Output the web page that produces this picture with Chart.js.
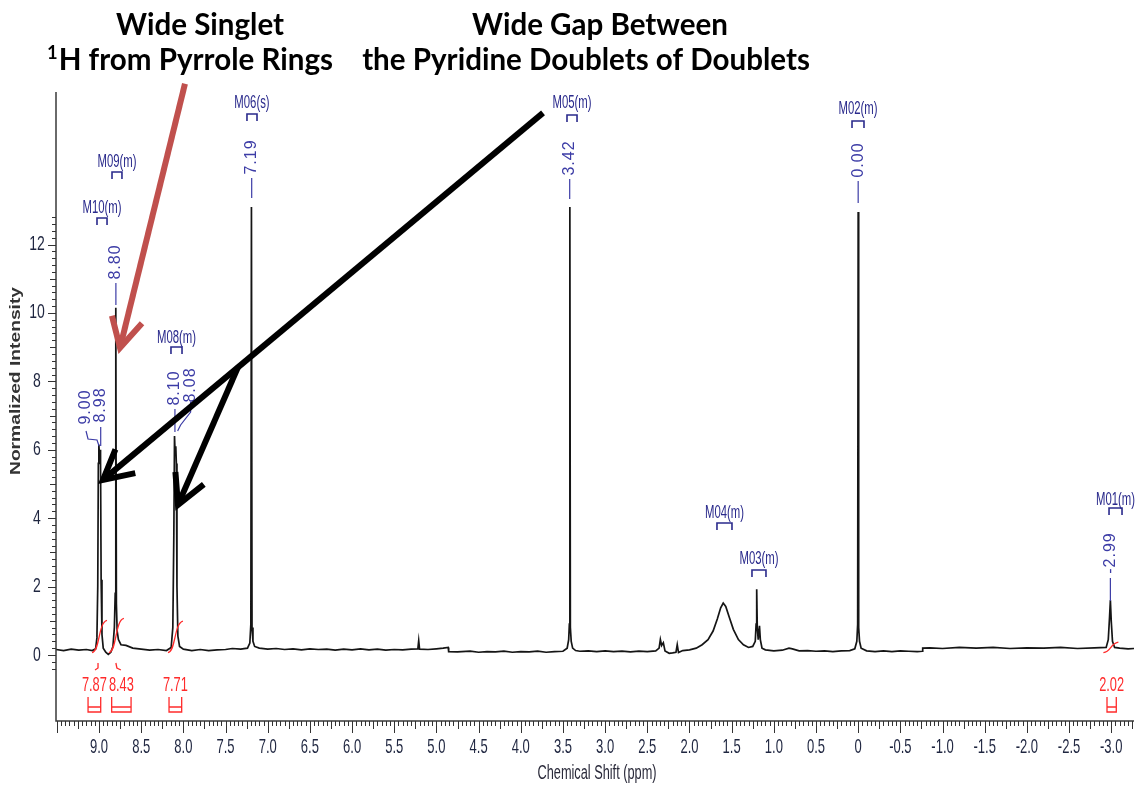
<!DOCTYPE html>
<html>
<head>
<meta charset="utf-8">
<title>1H NMR spectrum</title>
<script src="https://cdn.jsdelivr.net/npm/chart.js@4.4.1/dist/chart.umd.min.js"></script>
<style>
  html, body { margin: 0; padding: 0; background: #fff; }
  canvas { display: block; }
</style>
</head>
<body>
<canvas id="nmrChart" width="1139" height="785"></canvas>
<script>
// spectrum trace: chemical shift (ppm) and normalized intensity
const shiftPpm = [
  // 9.5 - 8.6
  9.51, 9.42, 9.33, 9.24, 9.15, 9.08, 9.04, 9.025, 9.015, 9.008, 9.002, 8.995, 8.988, 8.982, 8.975,
  8.965, 8.95, 8.92, 8.89, 8.86, 8.835, 8.818, 8.808, 8.801, 8.794, 8.785, 8.77, 8.74, 8.68, 8.6,
  // 8.5 - 7.1
  8.5, 8.4, 8.3, 8.2, 8.145, 8.125, 8.113, 8.105, 8.098, 8.09, 8.083, 8.076, 8.065, 8.045, 8.0,
  7.9, 7.8, 7.7, 7.6, 7.5, 7.42, 7.32, 7.24, 7.212, 7.2, 7.193, 7.186, 7.175, 7.155, 7.1,
  // 7.0 - 3.5
  7.0, 6.9, 6.8, 6.7, 6.6, 6.5, 6.4, 6.3, 6.2, 6.1, 6.0, 5.9, 5.8, 5.7, 5.6, 5.5, 5.4, 5.3, 5.22, 5.21,
  5.2, 5.1, 5.0, 4.92, 4.86, 4.855, 4.75, 4.6, 4.5, 4.4, 4.3, 4.2, 4.1, 4.0, 3.9, 3.8, 3.7, 3.6, 3.5,
  // 3.45 - 2.0
  3.45, 3.432, 3.424, 3.418, 3.412, 3.402, 3.385, 3.35, 3.3, 3.2, 3.1, 3.0, 2.9, 2.8, 2.7,
  2.6, 2.5, 2.4, 2.36, 2.345, 2.33, 2.31, 2.29, 2.24, 2.2, 2.16, 2.145, 2.13, 2.08, 2.0,
  // 1.92 - 0.04
  1.92, 1.85, 1.78, 1.72, 1.67, 1.63, 1.6, 1.57, 1.53, 1.48, 1.42, 1.36, 1.3, 1.25, 1.22, 1.21, 1.203, 1.196,
  1.185, 1.17, 1.16, 1.14, 1.1, 1.0, 0.9, 0.82, 0.78, 0.7, 0.6, 0.5, 0.4, 0.3, 0.2, 0.1, 0.04,
  // 0.016 - -3.27
  0.016, 0.006, 0.0, -0.006, -0.016, -0.035, -0.1, -0.2, -0.3, -0.4, -0.5, -0.6, -0.7, -0.76, -0.765, -0.85, -1.0, -1.2,
  -1.4, -1.6, -1.8, -2.0, -2.2, -2.4, -2.6, -2.8, -2.94, -2.965, -2.98, -2.99, -3.0, -3.015, -3.04, -3.1, -3.2, -3.27
];
const intensity = [
  0.16, 0.13, 0.17, 0.14, 0.16, 0.13, 0.18, 0.5, 2.0, 5.6, 6.15, 5.85, 6.0, 5.7, 2.2,
  0.6, 0.2, 0.08, 0.02, 0.08, 0.25, 0.8, 1.8, 10.15, 1.5, 0.7, 0.45, 0.3, 0.28, 0.2,
  0.17, 0.14, 0.16, 0.13, 0.22, 0.8, 3.5, 6.4, 5.9, 6.1, 5.6, 2.0, 0.55, 0.25, 0.17,
  0.13, 0.16, 0.13, 0.15, 0.16, 0.19, 0.17, 0.2, 0.35, 0.9, 13.1, 0.8, 0.4, 0.25, 0.2,
  0.17, 0.19, 0.16, 0.18, 0.15, 0.18, 0.16, 0.17, 0.14, 0.17, 0.15, 0.18, 0.15, 0.17, 0.14, 0.16, 0.15, 0.17, 0.18, 0.42,
  0.17, 0.16, 0.18, 0.2, 0.22, 0.1, 0.09, 0.11, 0.08, 0.1, 0.09, 0.11, 0.08, 0.1, 0.09, 0.11, 0.08, 0.1, 0.11,
  0.2, 0.45, 0.9, 13.1, 0.8, 0.4, 0.2, 0.13, 0.11, 0.12, 0.1, 0.12, 0.1, 0.11, 0.09,
  0.11, 0.1, 0.12, 0.2, 0.45, 0.28, 0.36, 0.12, 0.05, 0.06, 0.08, 0.3, 0.07, 0.13, 0.15,
  0.2, 0.3, 0.45, 0.7, 1.05, 1.38, 1.52, 1.42, 1.12, 0.75, 0.45, 0.3, 0.22, 0.25, 0.4, 0.9, 1.92, 0.8,
  0.45, 0.85, 0.45, 0.2, 0.15, 0.12, 0.14, 0.2, 0.18, 0.12, 0.13, 0.11, 0.12, 0.1, 0.12, 0.13, 0.18,
  0.4, 0.9, 12.95, 0.8, 0.4, 0.2, 0.12, 0.1, 0.12, 0.1, 0.12, 0.11, 0.1, 0.11, 0.2, 0.21, 0.19, 0.22,
  0.2, 0.22, 0.19, 0.21, 0.2, 0.22, 0.19, 0.21, 0.22, 0.45, 1.1, 1.6, 1.0, 0.4, 0.22, 0.2, 0.18, 0.19
];

// axis tick labels
const xTickLabels = ['9.0', '8.5', '8.0', '7.5', '7.0', '6.5', '6.0', '5.5', '5.0', '4.5', '4.0', '3.5', '3.0',
  '2.5', '2.0', '1.5', '1.0', '0.5', '0', '-0.5', '-1.0', '-1.5', '-2.0', '-2.5', '-3.0'];
const yTickLabels = ['0', '2', '4', '6', '8', '10', '12'];

// peak picking labels
const peakLabels = ['9.00', '8.98', '8.80', '8.10', '8.08', '7.19', '3.42', '0.00', '-2.99'];
const peakShifts = [9.00, 8.98, 8.80, 8.10, 8.08, 7.19, 3.42, 0.00, -2.99];

// multiplet names and their ranges (ppm)
const multipletNames = ['M10(m)', 'M09(m)', 'M08(m)', 'M06(s)', 'M05(m)', 'M02(m)', 'M04(m)', 'M03(m)', 'M01(m)'];
const multipletFrom = [9.024, 8.846, 8.147, 7.246, 3.452, 0.073, 1.674, 1.259, -2.974];
const multipletTo = [8.905, 8.728, 8.016, 7.127, 3.333, -0.069, 1.496, 1.093, -3.128];

// integrals
const integralLabels = ['7.87', '8.43', '7.71', '2.02'];
const integralValues = [7.87, 8.43, 7.71, 2.02];
const integralFrom = [9.13, 8.85, 8.17, -2.95];
const integralTo = [8.98, 8.62, 8.02, -3.06];
const integralPeaks = [9.00, 8.80, 8.10, -2.99];

// callout arrows in data coordinates [ppm, intensity]
const arrowStarts = [[7.981, 16.70], [3.736, 15.85], [7.352, 8.42]];
const arrowTips = [[8.751, 8.98], [8.953, 5.12], [8.064, 4.39]];
const arrowColors = ['#c0504d', '#000000', '#000000'];

// ---- layout of text (pixels) ----
const peakLabelLayout = [
  { dx: -13, mid: 407, lead: [[-13, 431], [-11, 439], [-2, 440], [0, 446]] },
  { dx: 0, mid: 405, lead: [[0, 427], [0, 446]] },
  { dx: 0, mid: 262, lead: [[0, 283], [0, 305]] },
  { dx: 0, mid: 388, lead: [[0, 409], [0, 432]] },
  { dx: 14, mid: 385, lead: [[14, 402], [14, 412], [4, 425], [1, 431]] },
  { dx: 0, mid: 157, lead: [[0, 178], [0, 198]] },
  { dx: 0, mid: 158, lead: [[0, 179], [0, 199]] },
  { dx: 0, mid: 160, lead: [[0, 181], [0, 203]] },
  { dx: 0, mid: 553, lead: [[0, 578], [0, 601]] }
];
const multipletTextY = [208, 162, 338, 103, 103, 109, 513, 559, 500];
const multipletBracketY = [218, 172, 347, 114, 115, 121, 523, 570, 508];

const FAMILY = '"Liberation Sans", Arial, sans-serif';
const CONDENSE = 0.62;
const NAVY = '#2a2a8c';
const LABEL_BLUE = '#3c3ca6';
const RED = '#ff2b2b';
const TICK_TEXT = '#1f2640';

function narrowText(ctx, str, x, y, size, color, opts) {
  opts = opts || {};
  ctx.save();
  ctx.translate(x, y);
  if (opts.rotate) ctx.rotate(opts.rotate);
  ctx.font = (opts.weight || 'normal') + ' ' + size + 'px ' + FAMILY;
  var w = ctx.measureText(str).width;
  var sx = opts.width ? opts.width / w : (opts.sx || CONDENSE);
  ctx.scale(sx, 1);
  ctx.fillStyle = color;
  ctx.textAlign = 'center';
  ctx.textBaseline = 'middle';
  ctx.fillText(str, 0, 0);
  ctx.restore();
}

function drawArrow(ctx, x0, y0, x1, y1, color) {
  var ang = Math.atan2(y0 - y1, x0 - x1);
  var len = 30, spread = 28 * Math.PI / 180;
  ctx.save();
  ctx.strokeStyle = color;
  ctx.lineWidth = 6;
  ctx.lineCap = 'butt';
  ctx.beginPath();
  ctx.moveTo(x0, y0);
  ctx.lineTo(x1, y1);
  ctx.stroke();
  ctx.lineJoin = 'miter';
  ctx.lineCap = 'square';
  ctx.beginPath();
  ctx.moveTo(x1 + len * Math.cos(ang - spread), y1 + len * Math.sin(ang - spread));
  ctx.lineTo(x1, y1);
  ctx.lineTo(x1 + len * Math.cos(ang + spread), y1 + len * Math.sin(ang + spread));
  ctx.stroke();
  ctx.restore();
}

const nmrDecor = {
  id: 'nmrDecor',
  afterDraw: function(chart) {
    var ctx = chart.ctx, a = chart.chartArea;
    var xs = chart.scales.x, ys = chart.scales.y;
    var px = function(v) { return xs.getPixelForValue(v); };
    var py = function(v) { return ys.getPixelForValue(v); };

    // axis lines
    ctx.save();
    ctx.strokeStyle = '#3a3a3a';
    ctx.lineWidth = 1.5;
    ctx.beginPath();
    ctx.moveTo(a.left, a.top);
    ctx.lineTo(a.left, a.bottom);
    ctx.lineTo(a.right, a.bottom);
    ctx.stroke();

    // x ticks every 0.05 ppm
    ctx.lineWidth = 1;
    ctx.strokeStyle = '#333';
    for (var k = -65; k <= 190; k++) {
      var v = k * 0.05;
      var x = Math.round(px(v)) + 0.5;
      if (x < a.left || x > a.right) continue;
      var len = (k % 10 === 0) ? 12 : (k % 5 === 0 ? 8 : 5);
      ctx.beginPath();
      ctx.moveTo(x, a.bottom);
      ctx.lineTo(x, a.bottom + len);
      ctx.stroke();
    }
    // y ticks every 0.2
    for (var j = -2; j <= 64; j++) {
      var yv = j * 0.2;
      var y = Math.round(py(yv)) + 0.5;
      var ylen = (j % 10 === 0) ? 8 : (j % 5 === 0 ? 6 : 4);
      ctx.beginPath();
      ctx.moveTo(a.left - ylen, y);
      ctx.lineTo(a.left, y);
      ctx.stroke();
    }
    ctx.restore();

    xTickLabels.forEach(function(t) {
      narrowText(ctx, t, px(parseFloat(t)), 747, 21, TICK_TEXT);
    });
    yTickLabels.forEach(function(t) {
      narrowText(ctx, t, 37, py(parseFloat(t)), 20, TICK_TEXT, { sx: 0.7 });
    });

    // axis titles
    narrowText(ctx, 'Chemical Shift (ppm)', 597, 773, 20, '#2a2a3a', { width: 119 });
    narrowText(ctx, 'Normalized Intensity', 16, 381, 15, '#333', { weight: 'bold', width: 188, rotate: -Math.PI / 2 });

    // multiplet labels and brackets
    ctx.save();
    ctx.strokeStyle = NAVY;
    ctx.lineWidth = 1.6;
    multipletNames.forEach(function(name, i) {
      var x0 = px(multipletFrom[i]), x1 = px(multipletTo[i]);
      var yb = multipletBracketY[i];
      ctx.beginPath();
      ctx.moveTo(x0, yb + 7);
      ctx.lineTo(x0, yb);
      ctx.lineTo(x1, yb);
      ctx.lineTo(x1, yb + 7);
      ctx.stroke();
      narrowText(ctx, name, (x0 + x1) / 2, multipletTextY[i], 18, NAVY, { sx: 0.63 });
    });
    ctx.restore();

    // peak labels, rotated, with leader lines
    peakLabels.forEach(function(lbl, i) {
      var L = peakLabelLayout[i];
      var x = px(peakShifts[i]);
      ctx.save();
      ctx.translate(x + L.dx, L.mid);
      ctx.rotate(-Math.PI / 2);
      ctx.font = '16px ' + FAMILY;
      ctx.letterSpacing = '1px';
      ctx.fillStyle = LABEL_BLUE;
      ctx.textAlign = 'center';
      ctx.textBaseline = 'middle';
      ctx.fillText(lbl, 0, 0);
      ctx.restore();
      ctx.save();
      ctx.strokeStyle = LABEL_BLUE;
      ctx.lineWidth = 1.2;
      ctx.beginPath();
      L.lead.forEach(function(p, n) {
        if (n === 0) ctx.moveTo(x + p[0], p[1]);
        else ctx.lineTo(x + p[0], p[1]);
      });
      ctx.stroke();
      ctx.restore();
    });

    // integrals: curve, value and bracket
    ctx.save();
    ctx.strokeStyle = RED;
    ctx.lineWidth = 1.3;
    integralLabels.forEach(function(lbl, i) {
      var xp = px(integralPeaks[i]);
      var yb = py(0.1), yt = yb - integralValues[i] * 3.7;
      ctx.beginPath();
      ctx.moveTo(xp - 7, yb + 1);
      ctx.bezierCurveTo(xp + 1, yb, xp - 1, yt, xp + 8, yt - 2);
      ctx.stroke();

      var x0 = px(integralFrom[i]), x1 = px(integralTo[i]);
      ctx.beginPath();
      ctx.moveTo(x0, 697);
      ctx.lineTo(x0, 712);
      ctx.lineTo(x1, 712);
      ctx.lineTo(x1, 697);
      ctx.moveTo(x0, 707);
      ctx.lineTo(x1, 707);
      ctx.stroke();
      narrowText(ctx, lbl, (x0 + x1) / 2, 685, 21, RED, { sx: 0.61 });
    });
    // small leaders under the first two integrals
    var l0 = px(integralPeaks[0]), l1 = px(integralPeaks[1]);
    ctx.beginPath();
    ctx.moveTo(l0 - 4, 670);
    ctx.lineTo(l0 - 1, 668);
    ctx.lineTo(l0 - 1, 663);
    ctx.moveTo(l1, 663);
    ctx.lineTo(l1 + 1, 668);
    ctx.lineTo(l1 + 5, 670);
    ctx.stroke();
    ctx.restore();

    // headings
    ctx.save();
    ctx.fillStyle = '#000';
    ctx.font = 'bold 100px Lato, "Open Sans", sans-serif';
    var size = 100 * 448 / ctx.measureText('the Pyridine Doublets of Doublets').width;
    ctx.font = 'bold ' + size + 'px Lato, "Open Sans", sans-serif';
    ctx.textAlign = 'center';
    ctx.textBaseline = 'alphabetic';
    ctx.fillText('Wide Singlet', 200, 35);
    ctx.fillText('Wide Gap Between', 600, 35);
    ctx.fillText('the Pyridine Doublets of Doublets', 586, 70);
    ctx.textAlign = 'right';
    ctx.fillText('H from Pyrrole Rings', 333, 70);
    var hw = ctx.measureText('H from Pyrrole Rings').width;
    ctx.font = 'bold ' + (size * 0.62) + 'px Lato, "Open Sans", sans-serif';
    ctx.fillText('1', 333 - hw - 1, 70 - size * 0.36);
    ctx.restore();

    // callout arrows
    arrowStarts.forEach(function(s, i) {
      var t = arrowTips[i];
      drawArrow(ctx, px(s[0]), py(s[1]), px(t[0]), py(t[1]), arrowColors[i]);
    });
  }
};

const points = shiftPpm.map(function(v, i) { return { x: v, y: intensity[i] }; });

new Chart(document.getElementById('nmrChart').getContext('2d'), {
  type: 'line',
  data: {
    datasets: [{
      label: 'Spectrum',
      data: points,
      borderColor: '#151515',
      borderWidth: 1.7,
      pointRadius: 0,
      fill: false,
      tension: 0
    }]
  },
  options: {
    responsive: false,
    animation: false,
    layout: { padding: { left: 56, right: 5, top: 92, bottom: 64 } },
    plugins: { legend: { display: false }, tooltip: { enabled: false } },
    scales: {
      x: { type: 'linear', reverse: true, min: -3.27, max: 9.51, display: false },
      y: { type: 'linear', min: -1.93, max: 16.46, display: false }
    }
  },
  plugins: [nmrDecor]
});
</script>
</body>
</html>
